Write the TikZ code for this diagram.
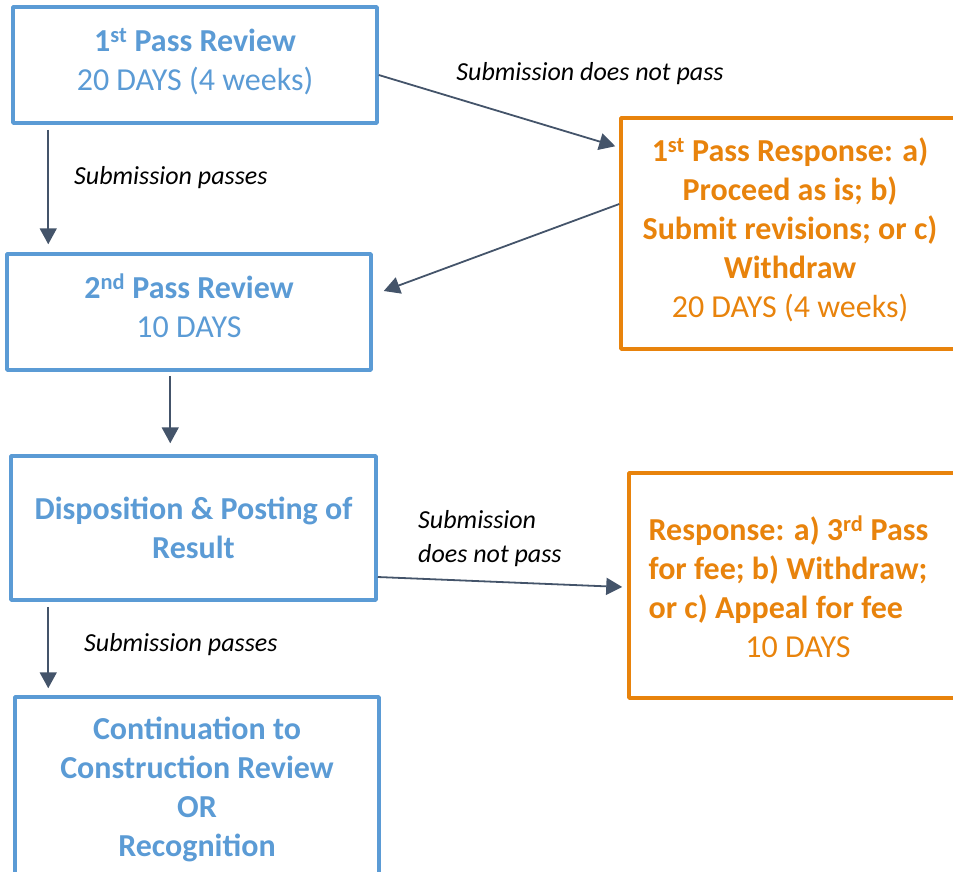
\documentclass[tikz,border=0pt]{standalone}
\usepackage{fontspec}
\setmainfont{Carlito}
\usetikzlibrary{arrows.meta}
\definecolor{boxblue}{RGB}{91,155,213}
\definecolor{boxorange}{RGB}{232,131,12}
\definecolor{linkgray}{RGB}{68,84,106}
\tikzset{
  reviewbox/.style={draw=boxblue, text=boxblue, line width=3.5pt, inner sep=0pt,
    align=center, font=\fontsize{32}{39}\selectfont},
  responsebox/.style={draw=boxorange, text=boxorange, line width=3.5pt, inner sep=0pt,
    align=center, font=\fontsize{32}{39}\selectfont},
  note/.style={inner sep=0pt, font=\fontsize{26}{34}\selectfont\itshape},
  link/.style={draw=linkgray, line width=1.8pt, ->}
}
\begin{document}
\begin{tikzpicture}[x=1pt, y=-1pt, line join = round, >={Triangle[width=17pt,length=16pt]}]
	\useasboundingbox (0,0) rectangle (953,871);
	\clip (0,0) rectangle (953,871);
	%Các hộp bên trái
	\node[reviewbox, minimum width=364pt, minimum height=116pt, text depth=11pt] (passA) at (195,65)
		{\textbf{1\textsuperscript{st} Pass Review}\\20 DAYS (4 weeks)};
	\node[reviewbox, minimum width=364pt, minimum height=116pt, text depth=13pt] (passB) at (189,312)
		{\textbf{2\textsuperscript{nd} Pass Review}\\10 DAYS};
	\node[reviewbox, minimum width=365pt, minimum height=144pt] (dispo) at (193.5,528)
		{\textbf{Disposition \& Posting of}\\\textbf{Result}};
	\node[reviewbox, minimum width=364pt, minimum height=190pt, text depth=11pt] (contin) at (197,792)
		{\textbf{Continuation to}\\\textbf{Construction Review}\\\textbf{OR}\\\textbf{Recognition}};
	%Các hộp bên phải
	\node[responsebox, minimum width=338pt, minimum height=231pt, text depth=11pt] (respA) at (790,233.5)
		{\textbf{1\textsuperscript{st} Pass Response: a)}\\\textbf{Proceed as is; b)}\\
		 \textbf{Submit revisions; or c)}\\\textbf{Withdraw}\\20 DAYS (4 weeks)};
	\node[responsebox, minimum width=338pt, minimum height=225pt] (respB) at (798,585.5)
		{\begin{tabular}[b]{@{}l@{\hspace{19pt}}}\textbf{Response: a) 3\textsuperscript{rd} Pass}\\
		 \textbf{for fee; b) Withdraw;}\\\textbf{or c) Appeal for fee}\end{tabular}\\10 DAYS};
	%Các mũi tên
	\draw[link] ([xshift=37pt,yshift=-5pt]passA.south west) -- ([xshift=43pt,yshift=8pt]passB.north west);
	\draw[link] ([yshift=-10pt]passA.east) -- ([xshift=-4pt,yshift=-30pt]respA.north west);
	\draw[link] ([yshift=29.5pt]respA.west) -- ([xshift=11pt,yshift=21pt]passB.east);
	\draw[link] ([xshift=165pt,yshift=-4pt]passB.south west) -- ([xshift=161pt,yshift=11pt]dispo.north west);
	\draw[link] ([yshift=-49pt]dispo.east) -- ([xshift=-5pt,yshift=-1.5pt]respB.west);
	\draw[link] ([xshift=39pt,yshift=-5pt]dispo.south west) -- ([xshift=35pt,yshift=7pt]contin.north west);
	%Nhãn
	\node[note, anchor=west] (passesA) at (74,178) {Submission passes};
	\node[note] (failA) at (590,74) {Submission does not pass};
	\node[note, anchor=west, align=left] (failB) at (418,539) {Submission\\does not pass};
	\node[note, anchor=west] (passesB) at (84,645) {Submission passes};
\end{tikzpicture}
\end{document}
